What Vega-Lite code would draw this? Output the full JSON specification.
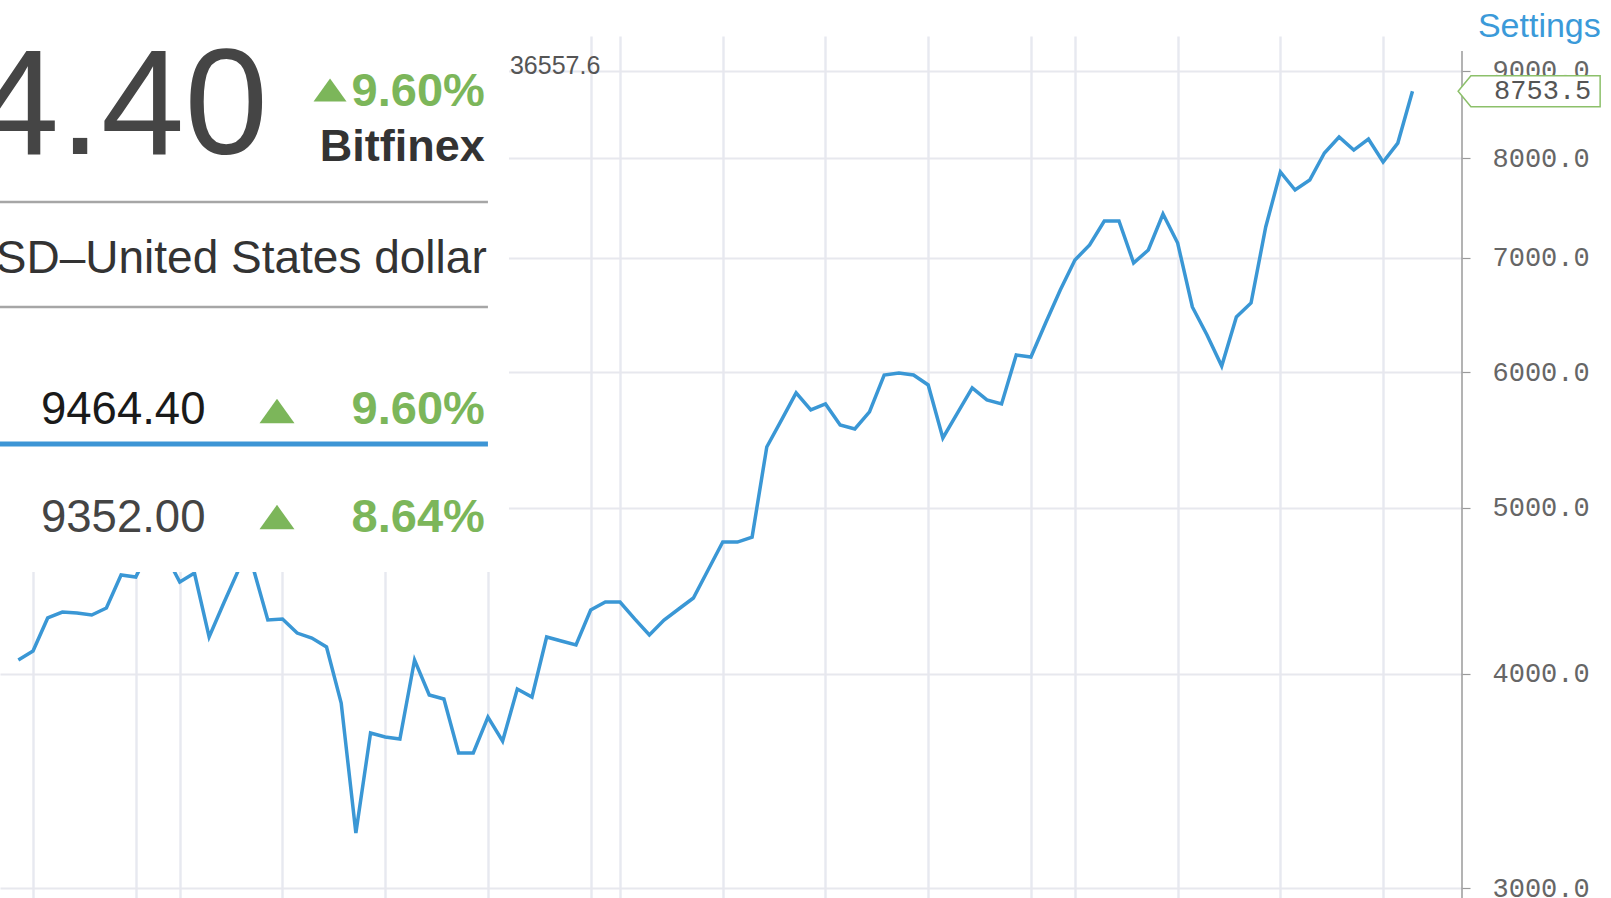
{
  "$schema": "https://vega.github.io/schema/vega-lite/v6.json",
  "width": 1462,
  "height": 862,
  "autosize": {"type": "none"},
  "padding": {"left": 0, "top": 36, "right": 149, "bottom": 0},
  "background": "white",
  "config": {"view": {"stroke": null}, "font": "Liberation Sans"},
  "datasets": {
    "btc": [
      {"date": "2017-08-21", "price": 4076}, {"date": "2017-08-22", "price": 4125}, {"date": "2017-08-23", "price": 4313},
      {"date": "2017-08-24", "price": 4347}, {"date": "2017-08-25", "price": 4342}, {"date": "2017-08-26", "price": 4330},
      {"date": "2017-08-27", "price": 4371}, {"date": "2017-08-28", "price": 4569}, {"date": "2017-08-29", "price": 4557},
      {"date": "2017-08-30", "price": 4740}, {"date": "2017-08-31", "price": 4700}, {"date": "2017-09-01", "price": 4526},
      {"date": "2017-09-02", "price": 4581}, {"date": "2017-09-03", "price": 4204}, {"date": "2017-09-04", "price": 4400},
      {"date": "2017-09-05", "price": 4600}, {"date": "2017-09-06", "price": 4612}, {"date": "2017-09-07", "price": 4301},
      {"date": "2017-09-08", "price": 4307}, {"date": "2017-09-09", "price": 4226}, {"date": "2017-09-10", "price": 4198},
      {"date": "2017-09-11", "price": 4148}, {"date": "2017-09-12", "price": 3847}, {"date": "2017-09-13", "price": 3230},
      {"date": "2017-09-14", "price": 3695}, {"date": "2017-09-15", "price": 3675}, {"date": "2017-09-16", "price": 3665},
      {"date": "2017-09-17", "price": 4076}, {"date": "2017-09-18", "price": 3889}, {"date": "2017-09-19", "price": 3868},
      {"date": "2017-09-20", "price": 3597}, {"date": "2017-09-21", "price": 3597}, {"date": "2017-09-22", "price": 3775},
      {"date": "2017-09-23", "price": 3655}, {"date": "2017-09-24", "price": 3920}, {"date": "2017-09-25", "price": 3878},
      {"date": "2017-09-26", "price": 4204}, {"date": "2017-09-27", "price": 4181}, {"date": "2017-09-28", "price": 4159},
      {"date": "2017-09-29", "price": 4359}, {"date": "2017-09-30", "price": 4406}, {"date": "2017-10-01", "price": 4406},
      {"date": "2017-10-02", "price": 4307}, {"date": "2017-10-03", "price": 4215}, {"date": "2017-10-04", "price": 4301},
      {"date": "2017-10-05", "price": 4365}, {"date": "2017-10-06", "price": 4430}, {"date": "2017-10-07", "price": 4600},
      {"date": "2017-10-08", "price": 4776}, {"date": "2017-10-09", "price": 4776}, {"date": "2017-10-10", "price": 4808},
      {"date": "2017-10-11", "price": 5427}, {"date": "2017-10-12", "price": 5627}, {"date": "2017-10-13", "price": 5836},
      {"date": "2017-10-14", "price": 5704}, {"date": "2017-10-15", "price": 5750}, {"date": "2017-10-16", "price": 5590},
      {"date": "2017-10-17", "price": 5560}, {"date": "2017-10-18", "price": 5689}, {"date": "2017-10-19", "price": 5978},
      {"date": "2017-10-20", "price": 5995}, {"date": "2017-10-21", "price": 5978}, {"date": "2017-10-22", "price": 5899},
      {"date": "2017-10-23", "price": 5493}, {"date": "2017-10-24", "price": 5681}, {"date": "2017-10-25", "price": 5875},
      {"date": "2017-10-26", "price": 5781}, {"date": "2017-10-27", "price": 5750}, {"date": "2017-10-28", "price": 6141},
      {"date": "2017-10-29", "price": 6125}, {"date": "2017-10-30", "price": 6411}, {"date": "2017-10-31", "price": 6702},
      {"date": "2017-11-01", "price": 6978}, {"date": "2017-11-02", "price": 7120}, {"date": "2017-11-03", "price": 7353},
      {"date": "2017-11-04", "price": 7353}, {"date": "2017-11-05", "price": 6950}, {"date": "2017-11-06", "price": 7072},
      {"date": "2017-11-07", "price": 7423}, {"date": "2017-11-08", "price": 7139}, {"date": "2017-11-09", "price": 6551},
      {"date": "2017-11-10", "price": 6309}, {"date": "2017-11-11", "price": 6051}, {"date": "2017-11-12", "price": 6463},
      {"date": "2017-11-13", "price": 6586}, {"date": "2017-11-14", "price": 7294}, {"date": "2017-11-15", "price": 7854},
      {"date": "2017-11-16", "price": 7666}, {"date": "2017-11-17", "price": 7770}, {"date": "2017-11-18", "price": 8057},
      {"date": "2017-11-19", "price": 8232}, {"date": "2017-11-20", "price": 8089}, {"date": "2017-11-21", "price": 8210},
      {"date": "2017-11-22", "price": 7960}, {"date": "2017-11-23", "price": 8165}, {"date": "2017-11-24", "price": 8753.5}
    ],
    "one": [{}]
  },
  "layer": [
    {
      "data": {"name": "btc"},
      "mark": {"type": "line", "color": "#3a97d5", "strokeWidth": 3.5},
      "encoding": {
        "x": {
          "field": "date", "type": "temporal",
          "scale": {"type": "utc", "domain": [
            {"year": 2017, "month": 8, "date": 19, "hours": 18, "utc": true},
            {"year": 2017, "month": 11, "date": 27, "hours": 9, "utc": true}
          ]},
          "axis": {"orient": "bottom", "labels": false, "ticks": false, "domain": false, "title": null,
                   "grid": true, "gridColor": "#e7e9f0", "gridWidth": 2.4,
                   "tickCount": {"interval": "day", "step": 7}}
        },
        "y": {
          "field": "price", "type": "quantitative",
          "scale": {"type": "log", "domain": [2960, 9429], "nice": false, "zero": false},
          "axis": {"orient": "right", "values": [3000, 4000, 5000, 6000, 7000, 8000, 9000], "format": ".1f",
                   "title": null, "domain": false, "labelOverlap": false,
                   "labelFont": "Liberation Mono", "labelFontSize": 27, "labelColor": "#666666",
                   "labelPadding": 22, "tickSize": 8, "tickColor": "#9a9a9a", "tickWidth": 1.2,
                   "grid": true, "gridColor": "#e7e8ee", "gridWidth": 2.2}
        }
      }
    },
    {
      "data": {"name": "one"},
      "mark": {"type": "rect", "fill": "white"},
      "encoding": {
        "x": {"datum": {"year": 2017, "month": 8, "date": 19, "hours": 18, "utc": true}, "type": "temporal"},
        "x2": {"datum": {"year": 2017, "month": 9, "date": 23, "hours": 10, "minutes": 30, "utc": true}},
        "y": {"datum": 4587, "type": "quantitative"},
        "y2": {"datum": 9429}
      }
    },
    {
      "data": {"name": "one"},
      "mark": {"type": "rule", "color": "#a6a6a6", "strokeWidth": 2.5},
      "encoding": {
        "x": {"datum": {"year": 2017, "month": 8, "date": 19, "hours": 18, "utc": true}, "type": "temporal"},
        "x2": {"datum": {"year": 2017, "month": 9, "date": 22, "utc": true}},
        "y": {"datum": 7543, "type": "quantitative"}
      }
    },
    {
      "data": {"name": "one"},
      "mark": {"type": "rule", "color": "#a6a6a6", "strokeWidth": 2.5},
      "encoding": {
        "x": {"datum": {"year": 2017, "month": 8, "date": 19, "hours": 18, "utc": true}, "type": "temporal"},
        "x2": {"datum": {"year": 2017, "month": 9, "date": 22, "utc": true}},
        "y": {"datum": 6550, "type": "quantitative"}
      }
    },
    {
      "data": {"name": "one"},
      "mark": {"type": "rule", "color": "#3d95d5", "strokeWidth": 5},
      "encoding": {
        "x": {"datum": {"year": 2017, "month": 8, "date": 19, "hours": 18, "utc": true}, "type": "temporal"},
        "x2": {"datum": {"year": 2017, "month": 9, "date": 22, "utc": true}},
        "y": {"datum": 5449, "type": "quantitative"}
      }
    },
    {
      "data": {"name": "one"},
      "mark": {"type": "text", "text": "4.40", "align": "right", "baseline": "alphabetic", "fontSize": 150, "color": "#454545"},
      "encoding": {
        "x": {"datum": {"year": 2017, "month": 9, "date": 7, "utc": true}, "type": "temporal"},
        "y": {"datum": 8046, "type": "quantitative"}
      }
    },
    {
      "data": {"name": "one"},
      "mark": {"type": "point", "shape": "M0,-0.7L1,0.7L-1,0.7Z", "size": 1089, "filled": true, "opacity": 1, "color": "#7cb65a", "strokeWidth": 0},
      "encoding": {
        "x": {"datum": {"year": 2017, "month": 9, "date": 11, "hours": 5, "minutes": 45, "utc": true}, "type": "temporal"},
        "y": {"datum": 8769, "type": "quantitative"}
      }
    },
    {
      "data": {"name": "one"},
      "mark": {"type": "text", "text": "9.60%", "align": "right", "baseline": "alphabetic", "fontSize": 47, "fontWeight": "bold", "color": "#7cb65a"},
      "encoding": {
        "x": {"datum": {"year": 2017, "month": 9, "date": 21, "hours": 19, "utc": true}, "type": "temporal"},
        "y": {"datum": 8582, "type": "quantitative"}
      }
    },
    {
      "data": {"name": "one"},
      "mark": {"type": "text", "text": "Bitfinex", "align": "right", "baseline": "alphabetic", "fontSize": 45, "fontWeight": "bold", "color": "#333333"},
      "encoding": {
        "x": {"datum": {"year": 2017, "month": 9, "date": 21, "hours": 19, "utc": true}, "type": "temporal"},
        "y": {"datum": 7971, "type": "quantitative"}
      }
    },
    {
      "data": {"name": "one"},
      "mark": {"type": "text", "text": "SD–United States dollar", "align": "right", "baseline": "alphabetic", "fontSize": 46, "color": "#333333"},
      "encoding": {
        "x": {"datum": {"year": 2017, "month": 9, "date": 21, "hours": 22, "utc": true}, "type": "temporal"},
        "y": {"datum": 6857, "type": "quantitative"}
      }
    },
    {
      "data": {"name": "one"},
      "mark": {"type": "text", "text": "9464.40", "align": "left", "baseline": "alphabetic", "fontSize": 45.5, "color": "#1a1a1a"},
      "encoding": {
        "x": {"datum": {"year": 2017, "month": 8, "date": 22, "hours": 13, "utc": true}, "type": "temporal"},
        "y": {"datum": 5597, "type": "quantitative"}
      }
    },
    {
      "data": {"name": "one"},
      "mark": {"type": "point", "shape": "M0,-0.7L1,0.7L-1,0.7Z", "size": 1225, "filled": true, "opacity": 1, "color": "#7cb65a", "strokeWidth": 0},
      "encoding": {
        "x": {"datum": {"year": 2017, "month": 9, "date": 7, "hours": 15, "utc": true}, "type": "temporal"},
        "y": {"datum": 5696, "type": "quantitative"}
      }
    },
    {
      "data": {"name": "one"},
      "mark": {"type": "text", "text": "9.60%", "align": "right", "baseline": "alphabetic", "fontSize": 47, "fontWeight": "bold", "color": "#7cb65a"},
      "encoding": {
        "x": {"datum": {"year": 2017, "month": 9, "date": 21, "hours": 19, "utc": true}, "type": "temporal"},
        "y": {"datum": 5597, "type": "quantitative"}
      }
    },
    {
      "data": {"name": "one"},
      "mark": {"type": "text", "text": "9352.00", "align": "left", "baseline": "alphabetic", "fontSize": 45.5, "color": "#444444"},
      "encoding": {
        "x": {"datum": {"year": 2017, "month": 8, "date": 22, "hours": 13, "utc": true}, "type": "temporal"},
        "y": {"datum": 4841, "type": "quantitative"}
      }
    },
    {
      "data": {"name": "one"},
      "mark": {"type": "point", "shape": "M0,-0.7L1,0.7L-1,0.7Z", "size": 1225, "filled": true, "opacity": 1, "color": "#7cb65a", "strokeWidth": 0},
      "encoding": {
        "x": {"datum": {"year": 2017, "month": 9, "date": 7, "hours": 15, "utc": true}, "type": "temporal"},
        "y": {"datum": 4939, "type": "quantitative"}
      }
    },
    {
      "data": {"name": "one"},
      "mark": {"type": "text", "text": "8.64%", "align": "right", "baseline": "alphabetic", "fontSize": 47, "fontWeight": "bold", "color": "#7cb65a"},
      "encoding": {
        "x": {"datum": {"year": 2017, "month": 9, "date": 21, "hours": 19, "utc": true}, "type": "temporal"},
        "y": {"datum": 4841, "type": "quantitative"}
      }
    },
    {
      "data": {"name": "one"},
      "mark": {"type": "text", "text": "36557.6", "align": "left", "baseline": "alphabetic", "fontSize": 25, "color": "#555555"},
      "encoding": {
        "x": {"datum": {"year": 2017, "month": 9, "date": 23, "hours": 12, "utc": true}, "type": "temporal"},
        "y": {"datum": 8959, "type": "quantitative"}
      }
    },
    {
      "data": {"name": "one"},
      "mark": {"type": "text", "text": "Settings", "align": "left", "baseline": "alphabetic", "fontSize": 34, "color": "#3b9ad9"},
      "encoding": {
        "x": {"datum": {"year": 2017, "month": 11, "date": 28, "hours": 11, "utc": true}, "type": "temporal"},
        "y": {"datum": 9416, "type": "quantitative"}
      }
    },
    {
      "data": {"name": "one"},
      "mark": {"type": "rule", "color": "#9a9a9a", "strokeWidth": 1.5},
      "encoding": {
        "x": {"datum": {"year": 2017, "month": 11, "date": 27, "hours": 9, "utc": true}, "type": "temporal"},
        "y": {"datum": 9241, "type": "quantitative"},
        "y2": {"datum": 2960}
      }
    },
    {
      "data": {"name": "one"},
      "mark": {"type": "point", "shape": "M-1,0L-0.82,-0.218L1,-0.218L1,0.218L-0.82,0.218Z", "size": 20164, "filled": true, "opacity": 1, "fill": "white", "stroke": "#8cc06a", "strokeWidth": 1.5},
      "encoding": {
        "x": {"datum": {"year": 2017, "month": 12, "date": 1, "hours": 22, "minutes": 48, "utc": true}, "type": "temporal"},
        "y": {"datum": 8753.5, "type": "quantitative"}
      }
    },
    {
      "data": {"name": "one"},
      "mark": {"type": "text", "text": "8753.5", "align": "center", "baseline": "middle", "font": "Liberation Mono", "fontSize": 27, "color": "#555555"},
      "encoding": {
        "x": {"datum": {"year": 2017, "month": 12, "date": 2, "hours": 21, "utc": true}, "type": "temporal"},
        "y": {"datum": 8753.5, "type": "quantitative"}
      }
    }
  ]
}
